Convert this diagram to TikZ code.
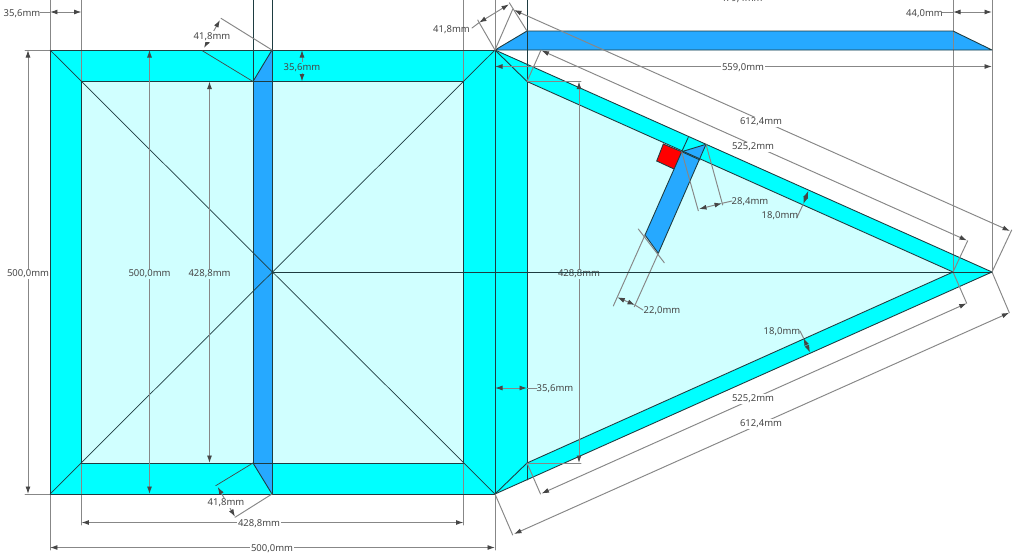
\documentclass[tikz,border=0pt]{standalone}
\usepackage{fontspec}
\setmainfont{Noto Sans}
\usepackage{tkz-euclide}
\usetikzlibrary{arrows.meta}
\definecolor{TabClr}{RGB}{0,255,255}
\definecolor{FaceClr}{RGB}{208,255,255}
\definecolor{FlapClr}{RGB}{38,169,255}
\definecolor{MarkClr}{RGB}{255,0,0}
\definecolor{EdgeClr}{RGB}{30,60,65}
\definecolor{DimClr}{RGB}{135,135,135}
\definecolor{TextClr}{RGB}{70,70,70}
\tikzset{
  edgeline/.style={line width=.5pt,color=EdgeClr},
  extline/.style={line width=.55pt,color=DimClr},
  dimline/.style={line width=.55pt,color=DimClr,{Latex[length=.15cm,width=.1cm,color=TextClr]}-{Latex[length=.15cm,width=.1cm,color=TextClr]}},
  dimtext/.style={font=\fontsize{5.4}{6}\selectfont,text=TextClr,inner sep=.8pt}
}

\begin{document}
\begin{tikzpicture}[x=.02cm,y=-.02cm]
\useasboundingbox (0,0) rectangle (1024,559);

% square panel
\tkzDefPoints{50/50/A,495/50/B,495/494/C,50/494/D}
\tkzDefPoints{81.5/81.5/E,463.5/81.5/F,463.5/463/G,81.5/463/H}
\tkzDefPoints{253/81.5/S1,272/50/S2,272/494/S3,253/463/S4,272/81.5/S5,272/463/S6,272/272/M}
% triangle panel
\tkzDefPoints{992/272/T,953/272/U,527/81.5/V,527/463/W,527/31/P,953/31/Q,992/50/Z,527/480/R}
% flap and red square
\tkzDefPoints{681.7/151.7/K1,706/144.3/K2,658.3/253.3/K3,645/235/K4,688.3/137.3/K5,700/160/K6}
\tkzDefPoints{663.3/144/R1,674/169/R2,656.7/161/R3}

\tkzFillPolygon[fill=TabClr](A,B,C,D)
\tkzFillPolygon[fill=TabClr](B,T,C)
\tkzFillPolygon[fill=FaceClr](E,F,G,H)
\tkzFillPolygon[fill=FaceClr](V,U,W)
\tkzFillPolygon[fill=FlapClr](S1,S2,S3,S4)
\tkzFillPolygon[fill=FlapClr](B,P,Q,Z)
\tkzFillPolygon[fill=FlapClr](K1,K2,K3,K4)
\tkzFillPolygon[fill=MarkClr](R1,K1,R2,R3)

% extension lines running off the top
\tkzDefPoints{50/0/a0,81.5/0/e0,253/0/s0,272/0/m0,463.5/0/f0,495/0/b0,527/0/v0,953/0/u0,992/0/t0}
\tkzDefPoints{50/550/a1,81.5/525/e1,463.5/525/f1,495/550/b1,25/50/a2,25/494/d2}
\tkzDrawSegments[extline](a0,a1 e0,E H,e1 f0,F G,f1 b0,b1 u0,U t0,T a2,A d2,D)
\tkzDrawSegments[edgeline](s0,S4 m0,S3 v0,R)

% outlines
\tkzDrawPolygon[edgeline](A,B,C,D)
\tkzDrawPolygon[edgeline](E,F,G,H)
\tkzDrawPolygon[edgeline](B,P,Q,Z)
\tkzDrawSegments[edgeline](B,T T,C V,U U,W S1,S2 S4,S3 B,V C,W)
\tkzDrawSegments[edgeline,line width=.4pt](A,C D,B)
\tkzDrawSegments[edgeline](K5,K1 K1,K2 K2,K3 K3,K4 K4,K1 K1,R1 R1,R3 R3,R2 K1,K6)

% dimension construction lines
\tkzDefPoints{202.3/50.7/c1,221/18.3/c2,215.7/485.7/c3,235/517.3/c4}
\tkzDefPoints{477.7/20/c5,509.3/2.7/c6,512.7/9.3/c7,1011.7/230/c8}
\tkzDefPoints{541/50/c9,967.7/240.7/c10,540.5/494/c11,966.7/303.3/c12,512.7/535/c13,1009.3/312.7/c14}
\tkzDefPoints{698.3/210.7/c15,722.7/205/c16,613.3/306/c17,634.3/306.7/c18,638.3/229/c19,664.3/262.7/c20}
\tkzDefPoints{581/81.5/c21,581/463/c22}
\tkzDrawSegments[extline,color=TextClr,line width=.4pt](S1,c1 S4,c3)
\tkzDrawSegments[extline](S2,c2 S3,c4 B,c5 P,c6 B,c7 T,c8 V,c9 U,c10 W,c11 U,c12 C,c13 T,c14)
\tkzDrawSegments[extline](K1,c15 K2,c16 K4,c17 K3,c18 c19,c20 V,c21 W,c22)

% dimensions
\tkzDefPoints{50/12/d1,81.5/12/d2,953/12/d3,992/12/d4,495/66.5/d5,992/66.5/d6}
\tkzDefPoints{28/50/d7,28/494/d8,149.5/50/d9,149.5/494/d10,209.5/81.5/d11,209.5/463/d12}
\tkzDefPoints{81.5/522.5/d13,463.5/522.5/d14,50/547.5/d15,495/547.5/d16,302/50/d17,302/81.5/d18}
\tkzDefPoints{495/388/d19,527/388/d20,579/81.5/d21,579/463/d22}
\tkzDefPoints{204/48/d23,220/20/d24,217.7/487/d25,235/516.7/d26,479/22.7/d27,509/4.3/d28}
\tkzDefPoints{514/10/d29,1010/231/d30,541.5/50.5/d31,967/240.5/d32,541.5/493.5/d33,966.7/303.3/d34}
\tkzDefPoints{514/534/d35,1009.3/312.7/d36,699/209/d37,722/203.3/d38,617.3/297.3/d39,635/305/d40}
\tkzDefPoints{808.3/190.7/d41,803.3/204/d42,810/352.5/d43,803.5/338/d44}
\tkzDrawSegments[dimline](d1,d2 d3,d4 d5,d6 d7,d8 d9,d10 d11,d12 d13,d14 d15,d16 d17,d18 d19,d20 d21,d22)
\tkzDrawSegments[dimline](d23,d24 d25,d26 d27,d28 d29,d30 d31,d32 d33,d34 d35,d36 d37,d38 d39,d40 d41,d42 d43,d44)

% leaders
\tkzDefPoints{40/12/l1,942/12/l2,537/388/l3,643/310/l4,732/201/l5,796.7/218/l6,800/331/l7,472/28/l8}
\tkzDrawSegments[extline](l1,d1 l2,d3 d20,l3 d40,l4 d38,l5 d42,l6 d44,l7 l8,d27)

% labels
\node[dimtext] (lblTopTab) at (22,14) {35,6mm};
\node[dimtext] (lblFold) at (741.5,-1.5) {479,4mm};
\node[dimtext] (lblEnd) at (924.5,14) {44,0mm};
\node[dimtext,fill=white] (lblLen) at (743,68) {559,0mm};
\node[dimtext,fill=white] (lblLeft) at (28,274) {500,0mm};
\node[dimtext,fill=FaceClr] (lblMid) at (149.5,274) {500,0mm};
\node[dimtext,fill=FaceClr] (lblIn) at (209.5,274) {428,8mm};
\node[dimtext,fill=FaceClr] (lblTri) at (579,274) {428,8mm};
\node[dimtext,fill=white] (lblLow) at (259,523.5) {428,8mm};
\node[dimtext,fill=white] (lblBot) at (272,549) {500,0mm};
\node[dimtext,fill=TabClr] (lblTab) at (302,67.5) {35,6mm};
\node[dimtext,fill=white] (lblSlantA) at (212,36.5) {41,8mm};
\node[dimtext,fill=white] (lblSlantB) at (226,503) {41,8mm};
\node[dimtext] (lblSlantC) at (451.5,30) {41,8mm};
\node[dimtext] (lblCol) at (555,389) {35,6mm};
\node[dimtext,fill=white] (lblOutA) at (761,122) {612,4mm};
\node[dimtext,fill=white] (lblInA) at (753,147) {525,2mm};
\node[dimtext,fill=white] (lblInB) at (753,399) {525,2mm};
\node[dimtext,fill=white] (lblOutB) at (761,424) {612,4mm};
\node[dimtext] (lblNotch) at (750,202) {28,4mm};
\node[dimtext] (lblWide) at (662,311) {22,0mm};
\node[dimtext] (lblBandA) at (780,216) {18,0mm};
\node[dimtext] (lblBandB) at (782,332) {18,0mm};

% centre line goes over the label
\tkzDrawSegments[edgeline](M,T)
\end{tikzpicture}
\end{document}
